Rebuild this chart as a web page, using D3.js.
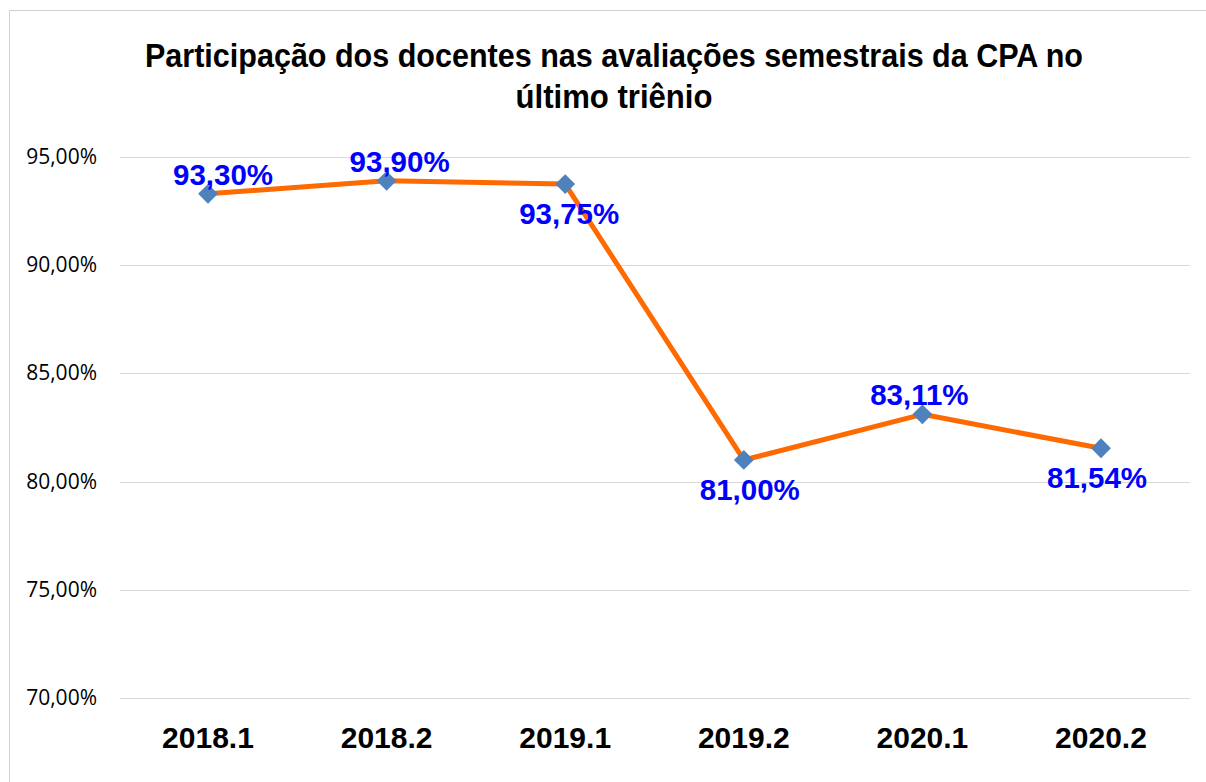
<!DOCTYPE html>
<html><head><meta charset="utf-8">
<script src="https://cdn.jsdelivr.net/npm/d3@7"></script>
<style>html,body{margin:0;padding:0;background:#fff;}svg{display:block;}</style>
</head><body>
<svg id="chart" width="1206" height="782"></svg>
<script>
const categories = ["2018.1","2018.2","2019.1","2019.2","2020.1","2020.2"];
const values = [93.30, 93.90, 93.75, 81.00, 83.11, 81.54];
const labelPlacement = ["above","above","below","below","above","below"];
const yTicks = [70,75,80,85,90,95];
const titleLines = ["Participação dos docentes nas avaliações semestrais da CPA no","último triênio"];

const svg = d3.select("#chart");
const W = 1206, H = 782;
const plot = {left:120, right:1190, top:157, bottom:698};

// frame
svg.append("path").attr("d", `M9.5,${H} V10.5 H${W}`).attr("fill","none").attr("stroke","#d0d0d0").attr("stroke-width",1);

const x = d3.scalePoint().domain(categories).range([208, 1101]);
const y = d3.scaleLinear().domain([70,95]).range([plot.bottom, plot.top]);

// gridlines
svg.append("g").selectAll("line").data(yTicks).join("line")
  .attr("x1", plot.left).attr("x2", plot.right)
  .attr("y1", d => Math.round(y(d))+0.5).attr("y2", d => Math.round(y(d))+0.5)
  .attr("stroke","#d9d9d9").attr("stroke-width",1);

// y axis labels
const fmt = d => d.toFixed(2).replace(".", ",") + "%";
svg.append("g").selectAll("text").data(yTicks).join("text")
  .attr("x", 97).attr("y", d => y(d)+7)
  .attr("text-anchor","end")
  .attr("font-family","'Open Sans', 'Noto Sans', sans-serif")
  .attr("font-size",21).attr("fill","#000")
  .text(fmt);

// x axis labels
svg.append("g").selectAll("text").data(categories).join("text")
  .attr("x", d => x(d)).attr("y", 748)
  .attr("text-anchor","middle")
  .attr("font-family","'Liberation Sans', Arial, sans-serif")
  .attr("font-weight","bold").attr("font-size",30).attr("fill","#000")
  .text(d => d);

// line
const pts = categories.map((c,i)=>({c, v:values[i], p:labelPlacement[i]}));
svg.append("path").datum(pts)
  .attr("d", d3.line().x(d=>x(d.c)).y(d=>y(d.v)))
  .attr("fill","none").attr("stroke","#FF6A00").attr("stroke-width",5).attr("stroke-linejoin","round");

// markers
svg.append("g").selectAll("path").data(pts).join("path")
  .attr("transform", d => `translate(${x(d.c)},${y(d.v)}) rotate(45)`)
  .attr("d", "M-7,-7H7V7H-7Z")
  .attr("fill","#4F81BD");

// data labels (small horizontal nudges as in the original)
const labelDx = [15, 13, 4, 6, -3, -4];
svg.append("g").selectAll("text").data(pts).join("text")
  .attr("x", (d,i) => x(d.c)+labelDx[i])
  .attr("y", d => d.p === "above" ? y(d.v)-9 : y(d.v)+40)
  .attr("text-anchor","middle")
  .attr("font-family","'Liberation Sans', Arial, sans-serif")
  .attr("font-weight","bold").attr("font-size",29.5).attr("fill","#0000FF")
  .text(d => fmt(d.v));

// title
const titleWidths = [938, 197];
const tg = svg.append("g");
titleLines.forEach((t,i) => {
  tg.append("text")
    .attr("x", 614).attr("y", 67 + i*41)
    .attr("text-anchor","middle")
    .attr("font-family","'Liberation Sans', Arial, sans-serif")
    .attr("font-weight","bold").attr("font-size",34).attr("fill","#000")
    .attr("textLength", titleWidths[i]).attr("lengthAdjust","spacingAndGlyphs")
    .text(t);
});
</script>
</body></html>
